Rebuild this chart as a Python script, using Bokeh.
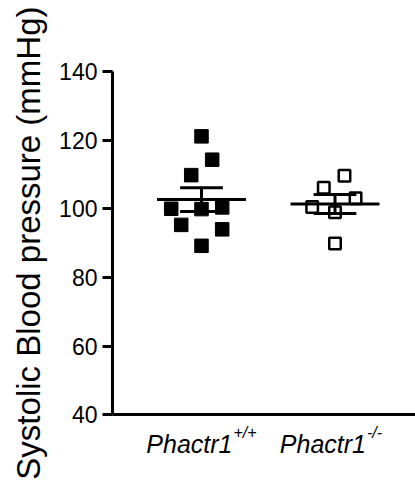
import numpy as np
from bokeh.plotting import figure
from bokeh.models import Range1d, FixedTicker, LinearAxis
from bokeh.core.properties import value
from bokeh.embed import file_html
from bokeh.resources import INLINE

# ---- data ----
group_names = ["Phactr1", "Phactr1"]
group_sups = ["+/+", "-/-"]
group_pos = [1, 2]

wt_values = [121.1, 114.3, 109.8, 100.0, 99.9, 100.4, 95.3, 94.0, 89.2]
wt_jitter = [0.0, 0.08, -0.077, -0.227, 0.0, 0.155, -0.152, 0.155, 0.0]

ko_values = [109.6, 106.1, 103.1, 100.5, 99.0, 89.9]
ko_jitter = [0.071, -0.084, 0.154, -0.171, 0.0, 0.0]

y_ticks = [40, 60, 80, 100, 120, 140]
y_axis_bounds = (40, 140)
y_label = "Systolic Blood pressure (mmHg)"

# layout constants (x position of the y axis, visible ranges)
AXIS_X = 1 / 3
X_VIEW = (-0.5056, 2.603)
Y_VIEW = (20.8, 160.7)

FONT = "Liberation Sans"

p = figure(frame_width=415, frame_height=480, output_backend="svg",
           toolbar_location=None, x_axis_location=None, y_axis_location=None,
           x_range=Range1d(*X_VIEW), y_range=Range1d(*Y_VIEW),
           min_border=0)
p.outline_line_color = None
p.xgrid.visible = False
p.ygrid.visible = False
p.background_fill_color = "white"
p.border_fill_color = "white"

# y axis at fixed location
ya = LinearAxis(fixed_location=AXIS_X, bounds=y_axis_bounds,
                ticker=FixedTicker(ticks=y_ticks),
                axis_line_width=3, axis_line_color="black",
                major_tick_line_width=3, major_tick_line_color="black",
                major_tick_out=10, major_tick_in=0,
                minor_tick_line_color=None,
                major_label_text_font=FONT, major_label_text_font_size="23px",
                major_label_text_color="black", major_label_standoff=5)
p.add_layout(ya, "left")

# x axis at y = 40
xa = LinearAxis(fixed_location=y_axis_bounds[0], bounds=(AXIS_X, X_VIEW[1]),
                ticker=FixedTicker(ticks=[]),
                axis_line_width=3, axis_line_color="black",
                major_tick_line_color=None, minor_tick_line_color=None,
                major_label_text_font_size="0px")
p.add_layout(xa, "below")

# y axis title (rotated text, centred on the axis span)
p.text(x=[AXIS_X], y=[sum(y_axis_bounds) / 2], text=[y_label], angle=np.pi / 2,
       x_offset=-84, text_align="center", text_baseline="alphabetic",
       text_font=value(FONT), text_font_size="33px", text_color="black")

# points
p.scatter(x=np.add(group_pos[0], wt_jitter), y=wt_values, marker="square",
          size=13.5, fill_color="black", line_color="black", line_width=1)
p.scatter(x=np.add(group_pos[1], ko_jitter), y=ko_values, marker="square",
          size=11.5, fill_color="white", line_color="black", line_width=2.5)

# mean +/- SEM
for pos, vals in zip(group_pos, [wt_values, ko_values]):
    arr = np.array(vals)
    m = arr.mean()
    s = arr.std(ddof=1) / np.sqrt(len(arr))
    p.segment(x0=[pos - 0.333, pos - 0.16, pos - 0.16, pos],
              y0=[m, m + s, m - s, m - s],
              x1=[pos + 0.333, pos + 0.16, pos + 0.16, pos],
              y1=[m, m + s, m - s, m + s],
              line_color="black", line_width=3, line_cap="butt")

# category labels with superscripts
base_y = [y_axis_bounds[0]] * len(group_pos)
p.text(x=group_pos, y=base_y, text=group_names, x_offset=31, y_offset=29,
       text_align="right", text_baseline="alphabetic",
       text_font=value(FONT), text_font_size="25px",
       text_font_style="italic", text_color="black")
p.text(x=group_pos, y=base_y, text=group_sups, x_offset=32, y_offset=18,
       text_align="left", text_baseline="alphabetic",
       text_font=value(FONT), text_font_size="16px",
       text_font_style="italic", text_color="black")

open("out.html", "w").write(file_html(p, INLINE))
